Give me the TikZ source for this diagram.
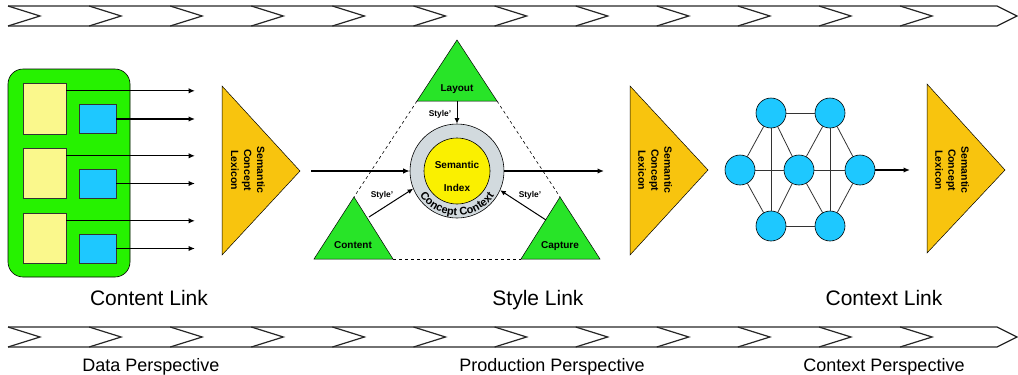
\documentclass[tikz,border=0pt]{standalone}
\usepackage{fontspec}
\setmainfont{Liberation Sans}
\usetikzlibrary{arrows.meta,decorations.text}

\definecolor{boxgreen}{RGB}{38,242,0}
\definecolor{trigreen}{RGB}{40,228,40}
\definecolor{paleyellow}{RGB}{250,248,140}
\definecolor{skyblue}{RGB}{30,200,255}
\definecolor{lexorange}{RGB}{248,196,14}
\definecolor{ringgray}{RGB}{210,218,222}
\definecolor{coreyellow}{RGB}{250,240,0}

\begin{document}
\begin{tikzpicture}[x=1pt, y=-1pt,
    arr/.style={-{Latex[length=6.5pt,width=5.5pt]}, line width=1.3pt},
    thinarr/.style={-{Latex[length=5.5pt,width=5pt]}, line width=1pt},
    band/.style={line width=1.2pt, black!85},
    ysq/.style={draw=black!80, fill=paleyellow, minimum width=43pt, minimum height=50pt, inner sep=0pt},
    bsq/.style={draw=black!80, fill=skyblue, minimum width=37pt, minimum height=29pt, inner sep=0pt},
    lex/.style={fill=lexorange, draw=black, line width=0.5pt},
    lextext/.style={rotate=-90, align=center, font=\fontsize{10.5}{13}\selectfont\bfseries},
    tri/.style={fill=trigreen, draw=black, line width=0.5pt},
    bold/.style={font=\fontsize{10}{12}\selectfont\bfseries, anchor=base},
    small/.style={font=\fontsize{8.4}{10}\selectfont\bfseries, anchor=base},
    dot/.style={circle, fill=skyblue, draw=black, line width=0.6pt, minimum size=30pt, inner sep=0pt},
    link/.style={font=\fontsize{21}{25}\selectfont, anchor=base},
    persp/.style={font=\fontsize{18}{22}\selectfont, anchor=base}]
    \useasboundingbox (0,0) rectangle (1018,375);
    % chevron bands
    \foreach \y in {6,327} {
        \draw[band] (8,\y) -- (997,\y) -- (1017,{\y+10}) -- (997,{\y+20}) -- (8,{\y+20});
        \foreach \k in {0,...,11}
            \draw[band] ({8+81.1*\k},\y) -- ({40+81.1*\k},{\y+10}) -- ({8+81.1*\k},{\y+20});
    }
    % content link
    \node[draw=black, line width=0.6pt, fill=boxgreen, rounded corners=15pt,
          minimum width=122pt, minimum height=208pt] (src) at (69,173) {};
    \node[ysq, minimum height=51pt] (y1) at (44.5,108.5) {};
    \node[ysq] (y2) at (44.5,173) {};
    \node[ysq] (y3) at (44.5,238) {};
    \node[bsq] (b1) at (97.5,119) {};
    \node[bsq] (b2) at (97.5,183.5) {};
    \node[bsq] (b3) at (97.5,248.5) {};
    \coordinate (edge) at (195,0);
    \foreach \n in {y1,y2,y3}
        \draw[arr] ([yshift=-8pt]\n.north east) -- ([yshift=-8pt]\n.north east -| edge);
    \foreach \n in {b1,b2,b3}
        \draw[arr] (\n.east) -- (\n.east -| edge);
    \draw[lex] (222,86) -- (300,171) -- (222,255) -- cycle;
    \node[lextext] (lex1) at (248,170) {Semantic\\Concept\\Lexicon};
    % style link
    \draw[dashed, line width=0.6pt] (417,101) -- (354,197);
    \draw[dashed, line width=0.6pt] (497,101) -- (560,197);
    \draw[dashed, line width=0.6pt] (393,259) -- (521,259);
    \draw[tri] (457,40) -- (497,101) -- (417,101) -- cycle;
    \draw[tri] (354,197) -- (393,259) -- (314,259) -- cycle;
    \draw[tri] (560,197) -- (600,259) -- (521,259) -- cycle;
    \node[bold] (layout) at (457,91) {Layout};
    \node[bold] (content) at (353,248) {Content};
    \node[bold] (capture) at (560,248) {Capture};
    \node[circle, fill=ringgray, draw=black, line width=0.6pt, minimum size=94pt, inner sep=0pt] (ring) at (457,171) {};
    \node[circle, fill=coreyellow, draw=black, line width=0.6pt, minimum size=66pt, inner sep=0pt] (core) at (ring.center) {};
    \node[bold] (sem) at (457,168) {Semantic};
    \node[bold] (idx) at (457,191) {Index};
    \begin{scope}[x=1pt, y=1pt, shift={(ring.center)}]
        \path[decorate, decoration={text along path, text align=center,
              text={|\fontsize{11}{13}\selectfont\bfseries|Concept Context}}]
            (195:44.5) arc[start angle=195, end angle=345, radius=44.5];
    \end{scope}
    \coordinate (in) at (311,171);
    \coordinate (out) at (604,171);
    \coordinate (laybase) at (457,101);
    \coordinate (cntedge) at (369,217);
    \coordinate (capedge) at (546,220);
    \draw[arr] (in) -- (ring.west);
    \draw[arr] (ring.east) -- (out);
    \draw[thinarr] (laybase) -- (ring.north);
    \draw[thinarr] (cntedge) -- (ring.202);
    \draw[thinarr] (capedge) -- (ring.336);
    \node[small] (st1) at (440,116) {Style'};
    \node[small] (st2) at (382,197) {Style'};
    \node[small] (st3) at (530,197) {Style'};
    % context link
    \draw[lex] (630,86) -- (708,170) -- (630,255) -- cycle;
    \node[lextext] (lex2) at (655,170) {Semantic\\Concept\\Lexicon};
    \node[dot] (n1) at (771,113) {};
    \node[dot] (n2) at (830,113) {};
    \node[dot] (n3) at (740,170) {};
    \node[dot] (n4) at (799,170) {};
    \node[dot] (n5) at (860,170) {};
    \node[dot] (n6) at (771,226) {};
    \node[dot] (n7) at (830,226) {};
    \foreach \a/\b in {n1/n2, n6/n7, n3/n1, n3/n6, n1/n4, n6/n4, n2/n4, n7/n4,
                       n2/n5, n7/n5, n3/n4, n4/n5, n1/n6, n2/n7}
        \draw[line width=0.8pt, black!80] (\a) -- (\b);
    \coordinate (netout) at (910,170);
    \draw[arr] (n5.east) -- (netout);
    \draw[lex] (927,84) -- (1005,170) -- (927,253) -- cycle;
    \node[lextext] (lex3) at (952,170) {Semantic\\Concept\\Lexicon};
    % captions
    \node[link] (clink) at (149,305) {Content Link};
    \node[link] (slink) at (538,305) {Style Link};
    \node[link] (xlink) at (884,305) {Context Link};
    \node[persp] (dp) at (151,371) {Data Perspective};
    \node[persp] (pp) at (552,371) {Production Perspective};
    \node[persp] (cp) at (884,371) {Context Perspective};
\end{tikzpicture}
\end{document}
